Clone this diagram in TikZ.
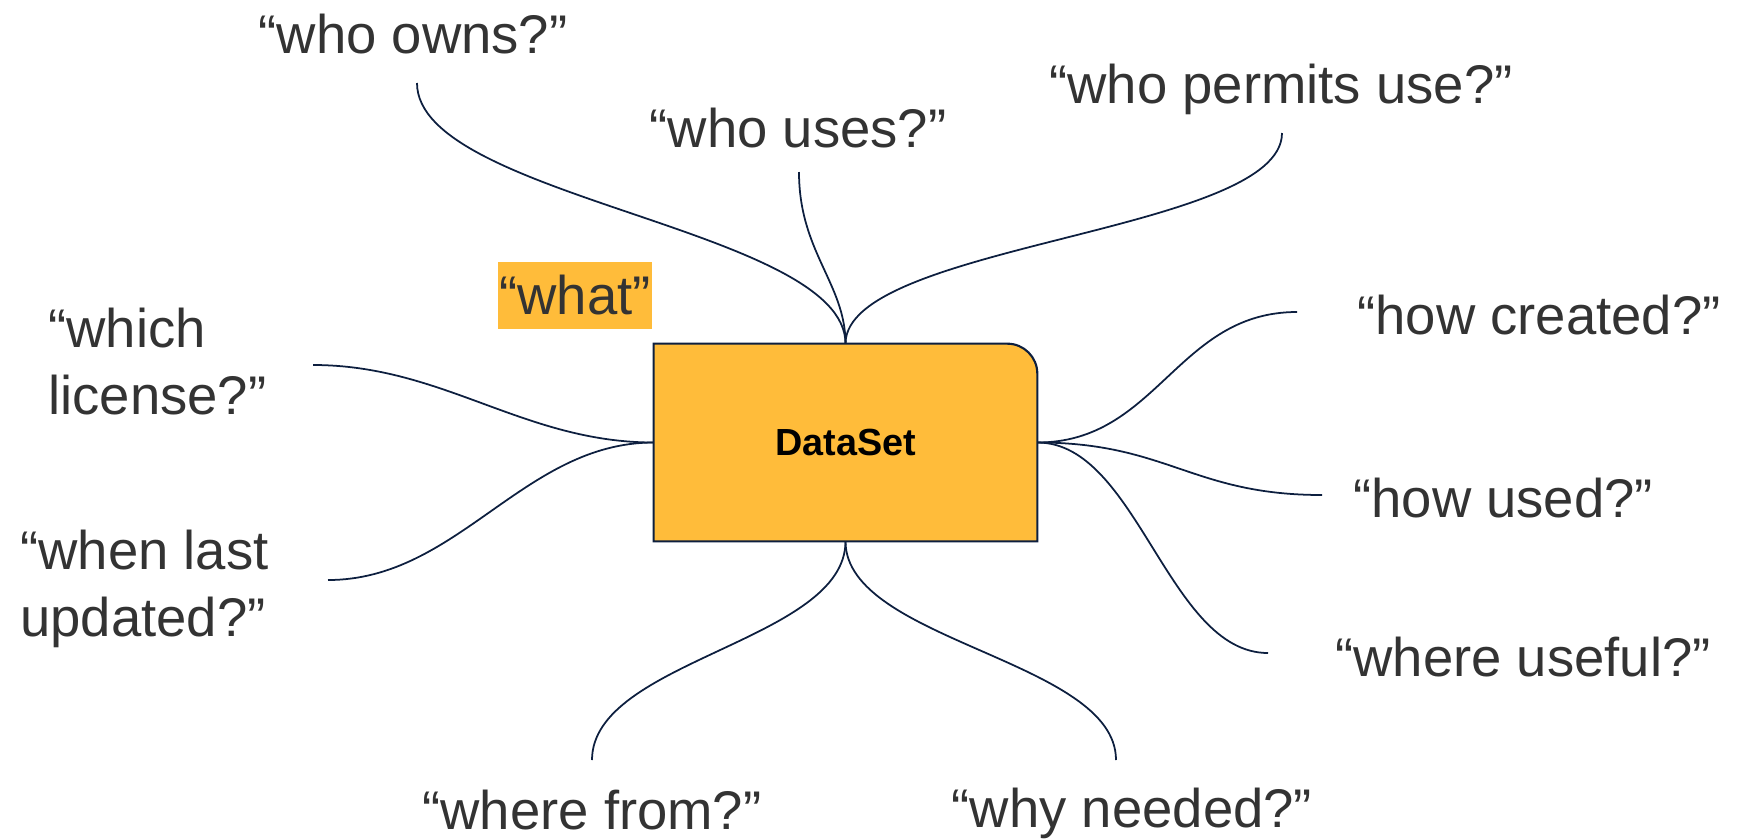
\documentclass[tikz,border=0pt]{standalone}
\usepackage{fontspec}
\setmainfont{Liberation Sans}
\usetikzlibrary{
  positioning,
  backgrounds
}
\definecolor{dsfill}{HTML}{FFBC3A}
\definecolor{dsline}{HTML}{0D1F3F}
\definecolor{qtext}{HTML}{333333}
\newcommand{\qsize}{\fontsize{31}{38}\selectfont}

\begin{document}
\begin{tikzpicture}[
    x=0.02cm, y=-0.02cm,
    question/.style={
      text=qtext,
      inner sep=0pt,
      font=\qsize
    },
    branch/.style={
      draw=dsline,
      line width=1pt
    },
    dsbox/.style={
      fill=dsfill,
      draw=dsline,
      line width=1.2pt
    }
  ]
  \useasboundingbox (0,0) rectangle (1744,839);

  \begin{scope}
    \node[minimum width=7.66cm, minimum height=3.94cm, inner sep=0pt,
      font=\fontsize{21.5}{25}\selectfont\bfseries] (ds) at (845.5,442.5) {DataSet};
    % only the top right corner is round
    \begin{scope}[on background layer]
      \filldraw[dsbox] (ds.south west) |- ([xshift=-0.6cm]ds.north east)
        arc[start angle=90, end angle=0, radius=0.6cm] -- (ds.south east) -- cycle;
    \end{scope}

    \node[question, anchor=base] (owns) at (413,53) {“who owns?”};
    \node[question, anchor=base] (uses) at (798,147) {“who uses?”};
    \node[question, anchor=base] (permits) at (1281,103) {“who permits use?”};
    \node[question, fill=dsfill, inner xsep=1pt, minimum height=1.34cm] (what) at (575,295.5) {“what”};

    \node[question, anchor=north west, align=left] (license) at (48,308) {“which\\license?”};
    \node[question, anchor=north west, align=left] (updated) at (20,530) {“when last\\updated?”};

    \node[question, anchor=base west] (created) at (1357,334) {“how created?”};
    \node[question, anchor=base west] (used) at (1353,517) {“how used?”};
    \node[question, anchor=base west] (useful) at (1335,676) {“where useful?”};

    \node[question, anchor=base] (from) at (592,829) {“where from?”};
    \node[question, anchor=base] (needed) at (1132,827) {“why needed?”};

    \coordinate (owns-end) at (417,83);
    \coordinate (uses-end) at (799,172);
    \coordinate (permits-end) at (1282,133);
    \coordinate (license-end) at (313,365);
    \coordinate (updated-end) at (328,580);
    \coordinate (created-end) at (1297,312);
    \coordinate (used-end) at (1322,495);
    \coordinate (useful-end) at (1268,653);
    \coordinate (from-end) at (592,760);
    \coordinate (needed-end) at (1116,760);

    \draw[branch] (owns-end) .. controls +(0,115) and +(0,-115) .. (ds.north);
    \draw[branch] (uses-end) .. controls +(0,80) and +(0,-60) .. (ds.north);
    \draw[branch] (permits-end) .. controls +(0,100) and +(0,-100) .. (ds.north);

    \draw[branch] (license-end) .. controls +(130,0) and +(-130,0) .. (ds.west);
    \draw[branch] (updated-end) .. controls +(130,0) and +(-130,0) .. (ds.west);

    \draw[branch] (ds.east) .. controls +(120,0) and +(-120,0) .. (created-end);
    \draw[branch] (ds.east) .. controls +(130,0) and +(-130,0) .. (used-end);
    \draw[branch] (ds.east) .. controls +(100,0) and +(-100,0) .. (useful-end);

    \draw[branch] (ds.south) .. controls +(0,100) and +(0,-100) .. (from-end);
    \draw[branch] (ds.south) .. controls +(0,100) and +(0,-100) .. (needed-end);
  \end{scope}
\end{tikzpicture}
\end{document}
